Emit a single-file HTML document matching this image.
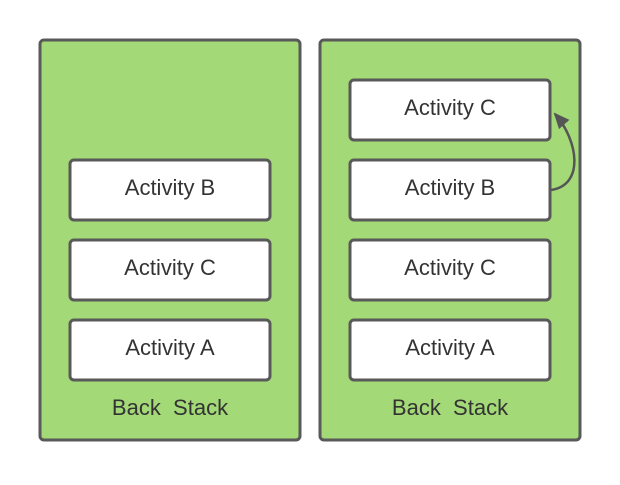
<!DOCTYPE html>
<html><head><meta charset="utf-8"><style>
body{margin:0;background:#fff;width:620px;height:480px;overflow:hidden}
svg text{font-family:"Liberation Sans",sans-serif;font-size:22px;fill:#333;white-space:pre}
</style></head><body>
<svg width="620" height="480">
<defs><marker id="ah" markerWidth="16" markerHeight="14" refX="14" refY="7" orient="auto" markerUnits="userSpaceOnUse"><path d="M0,0 L16,7 L0,14 z" fill="#555"/></marker></defs>
<g>
<rect x="40" y="40" width="260" height="400" rx="4" fill="#a3d977" stroke="#595959" stroke-width="3"/>
<g><rect x="70" y="160" width="200" height="60" rx="4" fill="#fff" stroke="#595959" stroke-width="3"/><text x="170" y="195" text-anchor="middle">Activity B</text></g>
<g><rect x="70" y="240" width="200" height="60" rx="4" fill="#fff" stroke="#595959" stroke-width="3"/><text x="170" y="275" text-anchor="middle">Activity C</text></g>
<g><rect x="70" y="320" width="200" height="60" rx="4" fill="#fff" stroke="#595959" stroke-width="3"/><text x="170" y="355" text-anchor="middle">Activity A</text></g>
<text x="170" y="415" text-anchor="middle" xml:space="preserve">Back  Stack</text>
</g>
<g>
<rect x="320" y="40" width="260" height="400" rx="4" fill="#a3d977" stroke="#595959" stroke-width="3"/>
<g><rect x="350" y="80" width="200" height="60" rx="4" fill="#fff" stroke="#595959" stroke-width="3"/><text x="450" y="115" text-anchor="middle">Activity C</text></g>
<g><rect x="350" y="160" width="200" height="60" rx="4" fill="#fff" stroke="#595959" stroke-width="3"/><text x="450" y="195" text-anchor="middle">Activity B</text></g>
<g><rect x="350" y="240" width="200" height="60" rx="4" fill="#fff" stroke="#595959" stroke-width="3"/><text x="450" y="275" text-anchor="middle">Activity C</text></g>
<g><rect x="350" y="320" width="200" height="60" rx="4" fill="#fff" stroke="#595959" stroke-width="3"/><text x="450" y="355" text-anchor="middle">Activity A</text></g>
<text x="450" y="415" text-anchor="middle" xml:space="preserve">Back  Stack</text>
<path d="M551,190 C585,185 578,140 555,114" fill="none" stroke="#555" stroke-width="2.5" marker-end="url(#ah)"/>
</g>
</svg>
</body></html>
